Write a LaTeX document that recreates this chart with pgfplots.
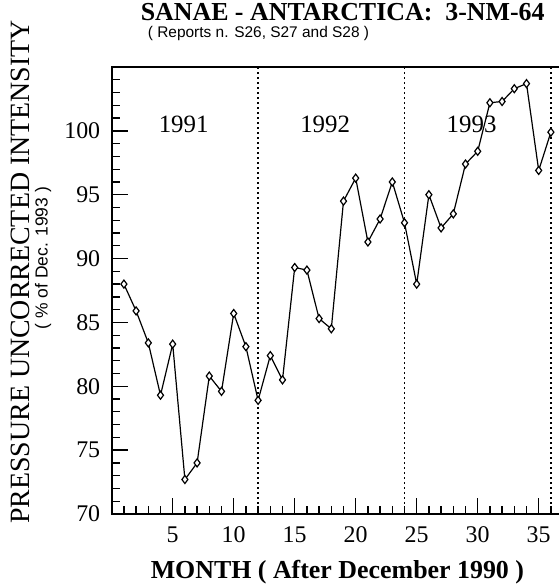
\documentclass[border=0pt]{standalone}
\usepackage{pgfplots}
\pgfplotsset{compat=1.18}
\usepackage{fontspec}
\setmainfont{Liberation Serif}
\newfontfamily\helv{Liberation Sans}
\pgfplotstableread{
m v
1 88.0
2 85.9
3 83.4
4 79.3
5 83.3
6 72.7
7 74.0
8 80.8
9 79.6
10 85.7
11 83.1
12 78.9
13 82.4
14 80.5
15 89.3
16 89.1
17 85.3
18 84.5
19 94.5
20 96.3
21 91.3
22 93.1
23 96.0
24 92.8
25 88.0
26 95.0
27 92.4
28 93.5
29 97.4
30 98.4
31 102.2
32 102.3
33 103.3
34 103.7
35 96.9
36 99.9
}\datatable
\begin{document}
\begin{tikzpicture}
\begin{axis}[
  scale only axis, width=451.4bp, height=447bp, at={(0,0)}, anchor=south west,
  xmin=0, xmax=37, ymin=70, ymax=105,
  xtick={5,10,...,35}, ytick={70,75,...,100},
  minor xtick={0,...,37}, minor ytick={70,...,105},
  xtick pos=bottom, ytick pos=left,
  major tick length=16bp, minor tick length=8bp,
  axis line style={line width=1.8bp},
  every tick/.style={black, line width=1.3bp},
  tick label style={font=\fontsize{24}{24}\selectfont},
  /pgf/number format/assume math mode=true,
  xticklabel style={yshift=-9bp},
  yticklabel style={xshift=-8bp},
  clip=false,
]
\addplot[black, line width=1.5bp, dash pattern=on 2bp off 3bp] coordinates {(12,70) (12,105)};
\addplot[black, line width=1.5bp, dash pattern=on 2bp off 3bp] coordinates {(24,70) (24,105)};
\addplot[black, line width=1.5bp, dash pattern=on 2bp off 3bp] coordinates {(36,70) (36,105)};
\addplot[black, line width=1.2bp, mark=diamond*, mark size=4bp,
  mark options={fill=white, line width=1.2bp, solid}] table[x=m, y=v] {\datatable};
\node[font=\fontsize{25}{25}\selectfont] at (axis cs:5.9,100.5) {1991};
\node[font=\fontsize{25}{25}\selectfont] at (axis cs:17.5,100.5) {1992};
\node[font=\fontsize{25}{25}\selectfont] at (axis cs:29.5,100.5) {1993};
\end{axis}
\node[font=\bfseries\fontsize{26}{26}\selectfont, anchor=base, inner sep=0pt] at (231bp,493bp) {SANAE - ANTARCTICA:\ \ 3-NM-64};
\node[font=\helv\fontsize{15.5}{15.5}\selectfont, anchor=base, inner sep=0pt] at (146.8bp,476bp) {( Reports n. S26, S27 and S28 )};
\node[font=\fontsize{28}{28}\selectfont, rotate=90, anchor=base, inner sep=0pt] at (-81.7bp,242bp) {PRESSURE UNCORRECTED INTENSITY};
\node[font=\helv\fontsize{17.5}{17.5}\selectfont, rotate=90, anchor=base, inner sep=0pt] at (-64bp,256bp) {( \% of Dec. 1993 )};
\node[font=\bfseries\fontsize{26}{26}\selectfont, anchor=base, inner sep=0pt] at (225.7bp,-64bp) {MONTH ( After December 1990 )};
\pgfresetboundingbox
\useasboundingbox (-111.7bp,-73bp) rectangle (447.3bp,514bp);
\end{tikzpicture}
\end{document}
